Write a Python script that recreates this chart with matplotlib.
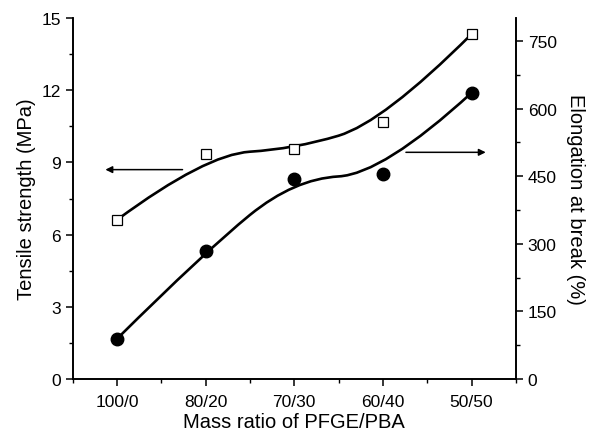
import numpy as np
import matplotlib.pyplot as plt
from matplotlib.path import Path
from matplotlib.patches import PathPatch
from matplotlib.ticker import MultipleLocator

plt.rcParams['font.family'] = ['Liberation Sans', 'DejaVu Sans']

# data
ratios = ['100/0', '80/20', '70/30', '60/40', '50/50']
tensile = [6.61, 9.33, 9.56, 10.66, 14.33]      # MPa, left axis, open squares
elongation = [89, 284, 444, 455, 635]           # %, right axis, filled circles

x = np.arange(1, len(ratios) + 1)


def bspline(ax, xs, ys):
    # quadratic B-spline using the data points as control points
    pts = np.column_stack([xs, ys]).astype(float)
    verts = [pts[0], pts[1]]
    for i in range(1, len(pts) - 2):
        verts.append((pts[i] + pts[i + 1]) / 2)
        verts.append(pts[i + 1])
    verts.append(pts[-1])
    codes = [Path.MOVETO] + [Path.CURVE3] * (len(verts) - 1)
    patch = PathPatch(Path(verts, codes), fill=False, edgecolor='black',
                      linewidth=1.9, transform=ax.transData, zorder=2)
    ax.add_patch(patch)


fig = plt.figure(figsize=(5.95, 4.35), dpi=100)
ax = fig.add_axes([0.122, 0.1264, 0.745, 0.8299])
ax2 = ax.twinx()

bspline(ax, x, tensile)
ax.plot(x, tensile, 's', mfc='white', mec='black', mew=0.9, ms=7.5, zorder=3)
bspline(ax2, x, elongation)
ax2.plot(x, elongation, 'o', color='black', ms=9, zorder=3)

# arrows pointing to the axes
ax.annotate('', xy=(0.87, 8.7), xytext=(1.74, 8.7),
            arrowprops=dict(arrowstyle='-|>', color='black', lw=1.1,
                            mutation_scale=10, shrinkA=0, shrinkB=0))
ax2.annotate('', xy=(5.16, 503), xytext=(4.26, 503),
             arrowprops=dict(arrowstyle='-|>', color='black', lw=1.1,
                             mutation_scale=10, shrinkA=0, shrinkB=0))

ax.set_xlim(0.5, 5.5)
ax.set_ylim(0, 15)
ax2.set_ylim(0, 801)
ax.set_xticks(x)
ax.set_xticklabels(ratios)
ax.xaxis.set_minor_locator(MultipleLocator(0.5))
ax.yaxis.set_major_locator(MultipleLocator(3))
ax.yaxis.set_minor_locator(MultipleLocator(1.5))
ax2.yaxis.set_major_locator(MultipleLocator(150))
ax2.yaxis.set_minor_locator(MultipleLocator(75))

for a in (ax, ax2):
    a.spines['top'].set_visible(False)
    for s in a.spines.values():
        s.set_linewidth(1.2)
    a.tick_params(which='major', direction='out', length=5, width=1.1, labelsize=12.5)
    a.tick_params(which='minor', direction='out', length=3, width=1.0)
ax.tick_params(axis='x', pad=6)

ax.set_xlabel('Mass ratio of PFGE/PBA', fontsize=14.5, labelpad=2)
ax.set_ylabel('Tensile strength (MPa)', fontsize=14.5, labelpad=4)
ax2.set_ylabel('Elongation at break (%)', fontsize=14.5, rotation=270, labelpad=20)

plt.savefig('out.png', dpi=100)
